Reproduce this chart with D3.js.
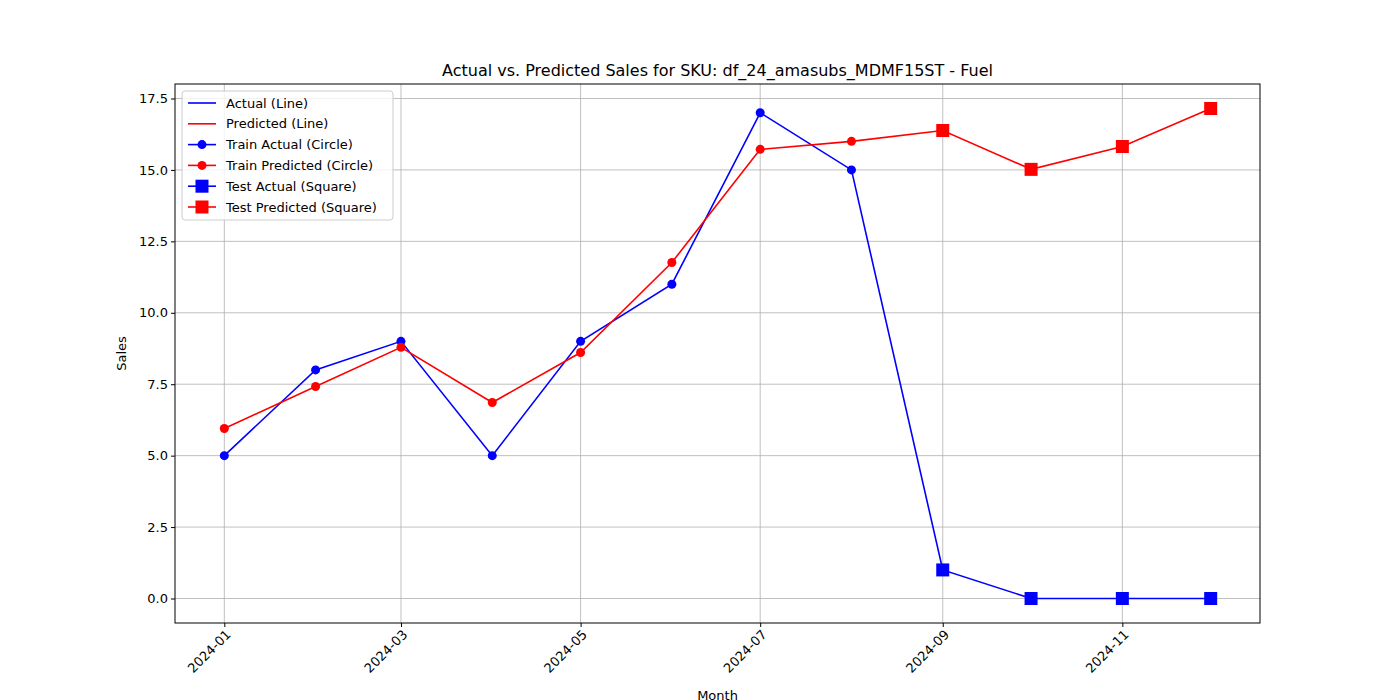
<!DOCTYPE html>
<html>
<head>
<meta charset="utf-8">
<script src="https://cdn.jsdelivr.net/npm/d3@7"></script>
<style>
  body { margin: 0; background: #fff; }
  text { font-family: "DejaVu Sans", sans-serif; }
</style>
</head>
<body>
<svg id="chart" width="1400" height="700"></svg>
<script>
const months = ['2024-01','2024-02','2024-03','2024-04','2024-05','2024-06',
                '2024-07','2024-08','2024-09','2024-10','2024-11','2024-12'];
const actual = [5, 8, 9, 5, 9, 11, 17, 15, 1, 0, 0, 0];
const predicted = [5.95, 7.42, 8.79, 6.86, 8.61, 11.76, 15.72, 16.0, 16.38, 15.02, 15.82, 17.15];
const trainCount = 8;
const tickMonths = ['2024-01','2024-03','2024-05','2024-07','2024-09','2024-11'];
const yTicks = [0, 2.5, 5, 7.5, 10, 12.5, 15, 17.5];

const parse = d3.timeParse('%Y-%m');
const dates = months.map(parse);
const rows = dates.map((d, i) => ({ date: d, actual: actual[i], predicted: predicted[i], train: i < trainCount }));

const svg = d3.select('#chart');
const mLeft = 175, mRight = 1260, mTop = 84, mBottom = 623;

const d0 = dates[0], d1 = dates[dates.length - 1];
const pad = (d1 - d0) * 0.05;
const x = d3.scaleTime().domain([new Date(+d0 - pad), new Date(+d1 + pad)]).range([mLeft, mRight]);
const yMax = d3.max(predicted), yPad = yMax * 0.05;
const y = d3.scaleLinear().domain([-yPad, yMax + yPad]).range([mBottom, mTop]);

// grid
const grid = svg.append('g').attr('stroke', '#b0b0b0').attr('stroke-width', 0.8);
tickMonths.forEach(m => grid.append('line')
    .attr('x1', x(parse(m))).attr('x2', x(parse(m))).attr('y1', mTop).attr('y2', mBottom));
yTicks.forEach(t => grid.append('line')
    .attr('x1', mLeft).attr('x2', mRight).attr('y1', y(t)).attr('y2', y(t)));

// axes
const xAxis = svg.append('g').attr('transform', `translate(0,${mBottom})`)
    .call(d3.axisBottom(x).tickValues(tickMonths.map(parse)).tickFormat(d3.timeFormat('%Y-%m')).tickSize(4).tickSizeOuter(0));
xAxis.selectAll('text')
    .attr('font-size', 13).attr('text-anchor', 'end')
    .attr('transform', 'rotate(-45)').attr('dx', '-0.3em').attr('dy', '0.5em');
const yAxis = svg.append('g').attr('transform', `translate(${mLeft},0)`)
    .call(d3.axisLeft(y).tickValues(yTicks).tickFormat(d3.format('.1f')).tickSize(4).tickSizeOuter(0));
yAxis.selectAll('text').attr('font-size', 13);
svg.selectAll('.domain').remove();
svg.append('rect').attr('x', mLeft).attr('y', mTop).attr('width', mRight - mLeft).attr('height', mBottom - mTop)
    .attr('fill', 'none').attr('stroke', '#000').attr('stroke-width', 1);

// lines
const lineA = d3.line().x(d => x(d.date)).y(d => y(d.actual));
const lineP = d3.line().x(d => x(d.date)).y(d => y(d.predicted));
[['blue', lineA], ['red', lineP]].forEach(([c, gen]) => {
  svg.append('path').datum(rows).attr('d', gen).attr('fill', 'none').attr('stroke', c).attr('stroke-width', 1.6);
});

const train = rows.filter(r => r.train), test = rows.filter(r => !r.train);
svg.append('g').selectAll('circle').data(train).join('circle')
    .attr('cx', d => x(d.date)).attr('cy', d => y(d.actual)).attr('r', 4.5).attr('fill', 'blue');
svg.append('g').selectAll('circle').data(train).join('circle')
    .attr('cx', d => x(d.date)).attr('cy', d => y(d.predicted)).attr('r', 4.5).attr('fill', 'red');
svg.append('g').selectAll('rect').data(test).join('rect')
    .attr('x', d => x(d.date) - 6.5).attr('y', d => y(d.actual) - 6.5).attr('width', 13).attr('height', 13).attr('fill', 'blue');
svg.append('g').selectAll('rect').data(test).join('rect')
    .attr('x', d => x(d.date) - 6.5).attr('y', d => y(d.predicted) - 6.5).attr('width', 13).attr('height', 13).attr('fill', 'red');

// labels
svg.append('text').attr('x', (mLeft + mRight) / 2).attr('y', 76).attr('text-anchor', 'middle')
    .attr('font-size', 16).text('Actual vs. Predicted Sales for SKU: df_24_amasubs_MDMF15ST - Fuel');
svg.append('text').attr('x', (mLeft + mRight) / 2).attr('y', 700).attr('text-anchor', 'middle')
    .attr('font-size', 13).text('Month');
svg.append('text').attr('transform', `translate(126,${(mTop + mBottom) / 2}) rotate(-90)`).attr('text-anchor', 'middle')
    .attr('font-size', 13).text('Sales');

// legend
const legendItems = [
  { label: 'Actual (Line)', color: 'blue', marker: null },
  { label: 'Predicted (Line)', color: 'red', marker: null },
  { label: 'Train Actual (Circle)', color: 'blue', marker: 'circle' },
  { label: 'Train Predicted (Circle)', color: 'red', marker: 'circle' },
  { label: 'Test Actual (Square)', color: 'blue', marker: 'square' },
  { label: 'Test Predicted (Square)', color: 'red', marker: 'square' }
];
const lg = svg.append('g').attr('transform', 'translate(182,91)');
lg.append('rect').attr('width', 211).attr('height', 129).attr('rx', 3)
    .attr('fill', '#fff').attr('fill-opacity', 0.8).attr('stroke', '#ccc');
legendItems.forEach((it, i) => {
  const g = lg.append('g').attr('transform', `translate(0,${12 + i * 20.8})`);
  g.append('line').attr('x1', 6).attr('x2', 34).attr('stroke', it.color).attr('stroke-width', 1.6);
  if (it.marker === 'circle') g.append('circle').attr('cx', 20).attr('r', 4.5).attr('fill', it.color);
  if (it.marker === 'square') g.append('rect').attr('x', 13.5).attr('y', -6.5).attr('width', 13).attr('height', 13).attr('fill', it.color);
  g.append('text').attr('x', 44).attr('dy', '0.35em').attr('font-size', 13).text(it.label);
});
</script>
</body>
</html>
